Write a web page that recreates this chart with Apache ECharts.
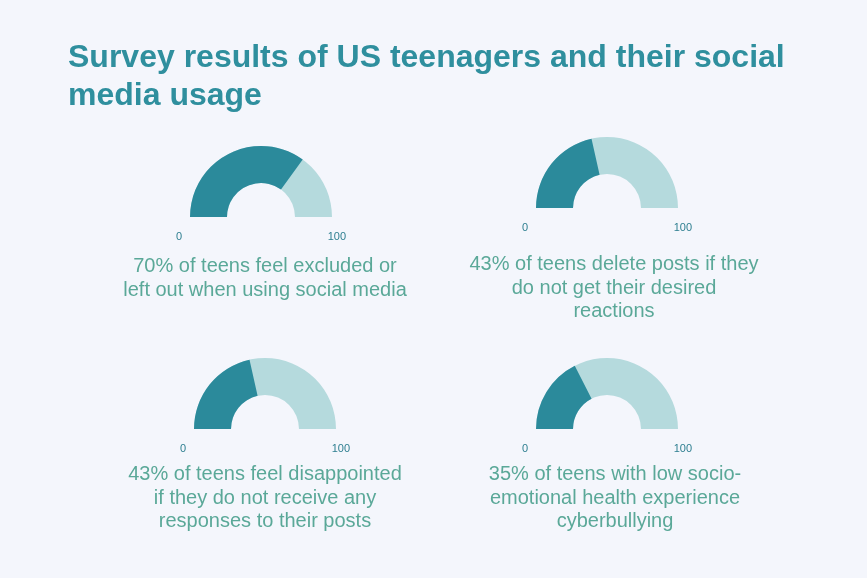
<!DOCTYPE html>
<html>
<head>
<meta charset="utf-8">
<script src="https://cdn.jsdelivr.net/npm/echarts@6/dist/echarts.min.js"></script>
<style>
  html, body { margin: 0; padding: 0; background: #f4f6fc; }
  #chart { width: 867px; height: 578px; }
</style>
</head>
<body>
<div id="chart"></div>
<script>
// Survey values (percent of teens)
const values = [70, 43, 43, 35];
const captions = [
    '70% of teens feel excluded or\nleft out when using social media',
    '43% of teens delete posts if they\ndo not get their desired\nreactions',
    '43% of teens feel disappointed\nif they do not receive any\nresponses to their posts',
    '35% of teens with low socio-\nemotional health experience\ncyberbullying'
];
const gaugeMin = 0;
const gaugeMax = 100;

// layout of each panel: gauge centre and caption anchor
const panels = [
    { cx: 261, cy: 217, tx: 260, ty: 250 },
    { cx: 607, cy: 208, tx: 609, ty: 248 },
    { cx: 265, cy: 429, tx: 260, ty: 458 },
    { cx: 607, cy: 429, tx: 610, ty: 458 }
];

const DARK = '#2b8a9b';
const LIGHT = '#b5dadd';
const FONT = '"Liberation Sans", Arial, sans-serif';

const chart = echarts.init(document.getElementById('chart'));

const titles = [{
    text: 'Survey results of US teenagers and their social\nmedia usage',
    left: 63,
    top: 34,
    textStyle: {
        color: '#2f8f9e',
        fontFamily: FONT,
        fontSize: 32,
        fontWeight: 'bold',
        lineHeight: 38
    }
}];

captions.forEach((c, i) => {
    titles.push({
        text: c,
        left: panels[i].tx,
        top: panels[i].ty,
        textAlign: 'center',
        textStyle: {
            color: '#5aa898',
            fontFamily: FONT,
            fontSize: 20,
            fontWeight: 'normal',
            lineHeight: 23.5,
            align: 'center'
        }
    });
});

const series = values.map((v, i) => ({
    type: 'gauge',
    center: [panels[i].cx, panels[i].cy],
    radius: 71,
    startAngle: 180,
    endAngle: 0,
    min: gaugeMin,
    max: gaugeMax,
    splitNumber: 1,
    animation: false,
    progress: {
        show: true,
        width: 37,
        roundCap: false,
        itemStyle: { color: DARK }
    },
    axisLine: {
        roundCap: false,
        lineStyle: { width: 37, color: [[1, LIGHT]] }
    },
    pointer: { show: false },
    anchor: { show: false },
    axisTick: { show: false },
    splitLine: { show: false, length: 0, distance: 0 },
    axisLabel: {
        show: true,
        distance: -14,
        // blank first line pushes the tick number below the arc
        formatter: (val) => '\n' + val,
        lineHeight: 40,
        color: '#2e7f90',
        fontFamily: FONT,
        fontSize: 11
    },
    title: { show: false },
    detail: { show: false },
    data: [{ value: v }]
}));

chart.setOption({
    backgroundColor: '#f4f6fc',
    title: titles,
    series: series
});
</script>
</body>
</html>
